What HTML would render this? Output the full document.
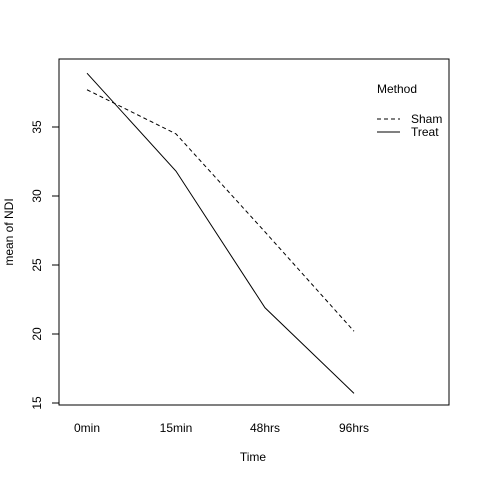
<!DOCTYPE html>
<html><head><meta charset="utf-8"><style>body{margin:0;background:#fff}svg{display:block}text{font-family:"Liberation Sans",sans-serif;font-size:12px;fill:#000}</style></head><body>
<svg width="480" height="480" id="c">
<rect x="59" y="59" width="390" height="346" fill="none" stroke="#000"/>
<text x="253" y="461" text-anchor="middle">Time</text>
<text transform="translate(13,232) rotate(-90)" text-anchor="middle">mean of NDI</text>
<g>
<text x="377" y="93">Method</text>
<line x1="377" y1="119" x2="400" y2="119" stroke="#000" stroke-dasharray="4,3"/>
<text x="411" y="123">Sham</text>
<line x1="377" y1="132" x2="400" y2="132" stroke="#000"/>
<text x="411" y="136">Treat</text>
</g>
</svg>
<script>
const categories=["0min","15min","48hrs","96hrs"];
const sham=[37.7,34.5,27.4,20.2];
const treat=[38.9,31.8,21.9,15.7];
const yTicks=[15,20,25,30,35];
const svg=document.getElementById('c');const NS="http://www.w3.org/2000/svg";
const xs=i=>87+i*89;
const ys=v=>403-(v-15)*13.8;
function mk(t,a){const e=document.createElementNS(NS,t);for(const k in a)e.setAttribute(k,a[k]);svg.appendChild(e);return e;}
const ax=mk('line',{x1:59,x2:59,y1:ys(yTicks[0]),y2:ys(yTicks[yTicks.length-1]),stroke:'#000'});


yTicks.forEach(v=>{const l=mk('line',{x1:52,x2:59,y1:ys(v),y2:ys(v),stroke:'#000'});


const t=mk('text',{transform:`translate(41,${ys(v)}) rotate(-90)`,'text-anchor':'middle'});t.textContent=v;

});
categories.forEach((c,i)=>{const t=mk('text',{x:xs(i),y:432,'text-anchor':'middle'});t.textContent=c;

});
const p1=mk('polyline',{points:sham.map((v,i)=>xs(i)+','+ys(v)).join(' '),fill:'none',stroke:'#000','stroke-dasharray':'4,3'});


const p2=mk('polyline',{points:treat.map((v,i)=>xs(i)+','+ys(v)).join(' '),fill:'none',stroke:'#000'});


</script>
</body></html>
